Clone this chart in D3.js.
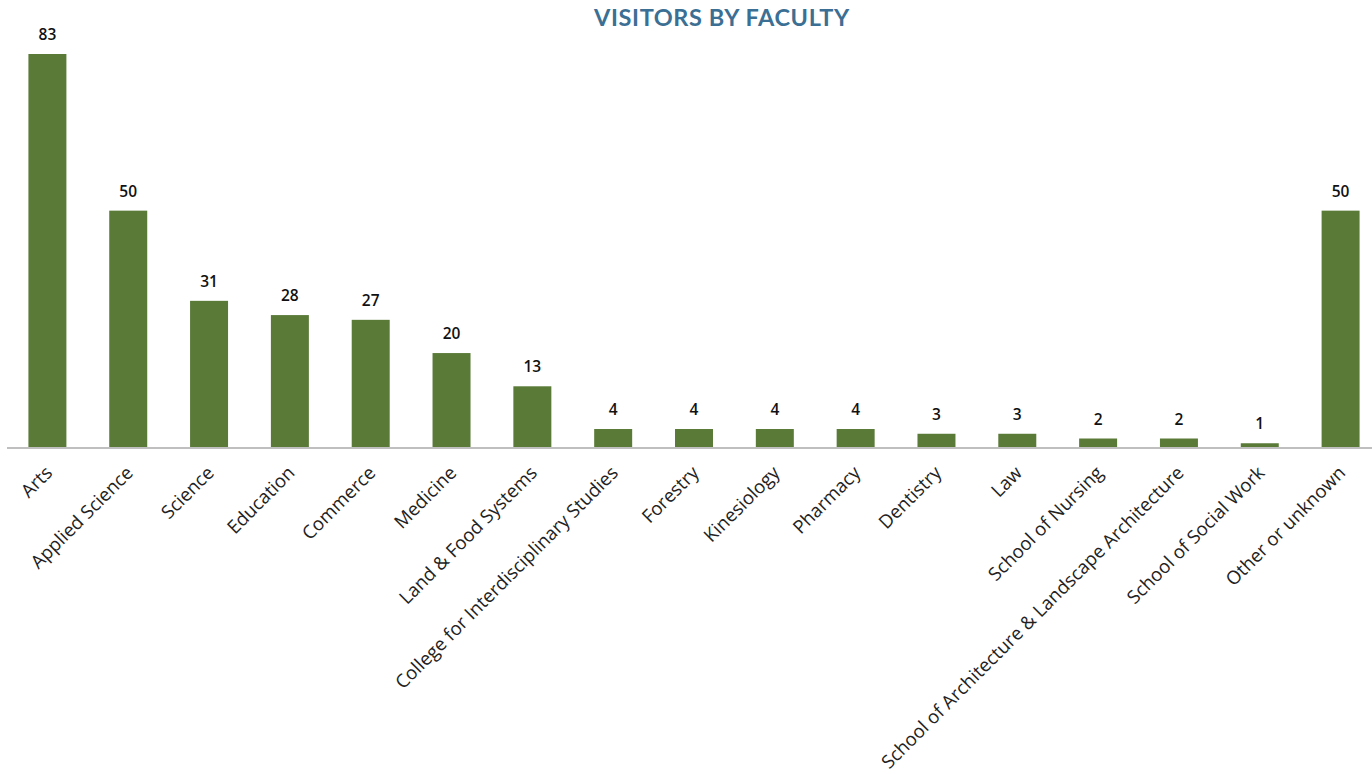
<!DOCTYPE html>
<html><head><meta charset="utf-8">
<script src="https://cdn.jsdelivr.net/npm/d3@7"></script>
<style>body{margin:0;background:#fff;} svg{display:block;}</style>
</head><body>
<svg id="c" width="1372" height="774"></svg>
<script>
const categories = ["Arts","Applied Science","Science","Education","Commerce","Medicine","Land & Food Systems","College for Interdisciplinary Studies","Forestry","Kinesiology","Pharmacy","Dentistry","Law","School of Nursing","School of Architecture & Landscape Architecture","School of Social Work","Other or unknown"];
const visitors = [83,50,31,28,27,20,13,4,4,4,4,3,3,2,2,1,50];
const title = "VISITORS BY FACULTY";

const svg = d3.select("#c");
const x = d3.scaleBand().domain(categories).range([7, 1381]).paddingInner(0.53).paddingOuter(0.265);
const y = d3.scaleLinear().domain([0, 83]).range([448, 54]);

svg.append("text").attr("x", 722).attr("y", 26).attr("text-anchor","middle")
  .attr("font-family","Lato, 'Open Sans', sans-serif").attr("font-weight","bold")
  .attr("font-size", 23.5).attr("fill","#3b6f93").attr("letter-spacing","0.6").text(title);

svg.selectAll("rect.bar").data(visitors).join("rect").attr("class","bar")
  .attr("x",(d,i)=>x(categories[i])).attr("width",x.bandwidth())
  .attr("y",d=>y(d)).attr("height",d=>y(0)-y(d)).attr("fill","#5a7a38");

svg.selectAll("text.val").data(visitors).join("text").attr("class","val")
  .attr("x",(d,i)=>x(categories[i])+x.bandwidth()/2).attr("y",d=>y(d)-14)
  .attr("text-anchor","middle").attr("font-family","'Open Sans', sans-serif")
  .attr("font-weight","600").attr("font-size",15.5).attr("fill","#111").text(d=>d);

const axis = svg.append("g").attr("transform","translate(0,448)")
  .call(d3.axisBottom(x).tickSize(0).tickPadding(0));
axis.select(".domain").attr("stroke","#bfbfbf").attr("stroke-width",2).attr("d","M7,0H1372");
axis.selectAll(".tick text")
  .attr("font-family","'Open Sans', sans-serif").attr("font-size",18.6).attr("fill","#222")
  .attr("text-anchor","end").attr("dy",null).attr("y",null)
  .attr("transform","translate(6,26) rotate(-45)");
</script>
</body></html>
